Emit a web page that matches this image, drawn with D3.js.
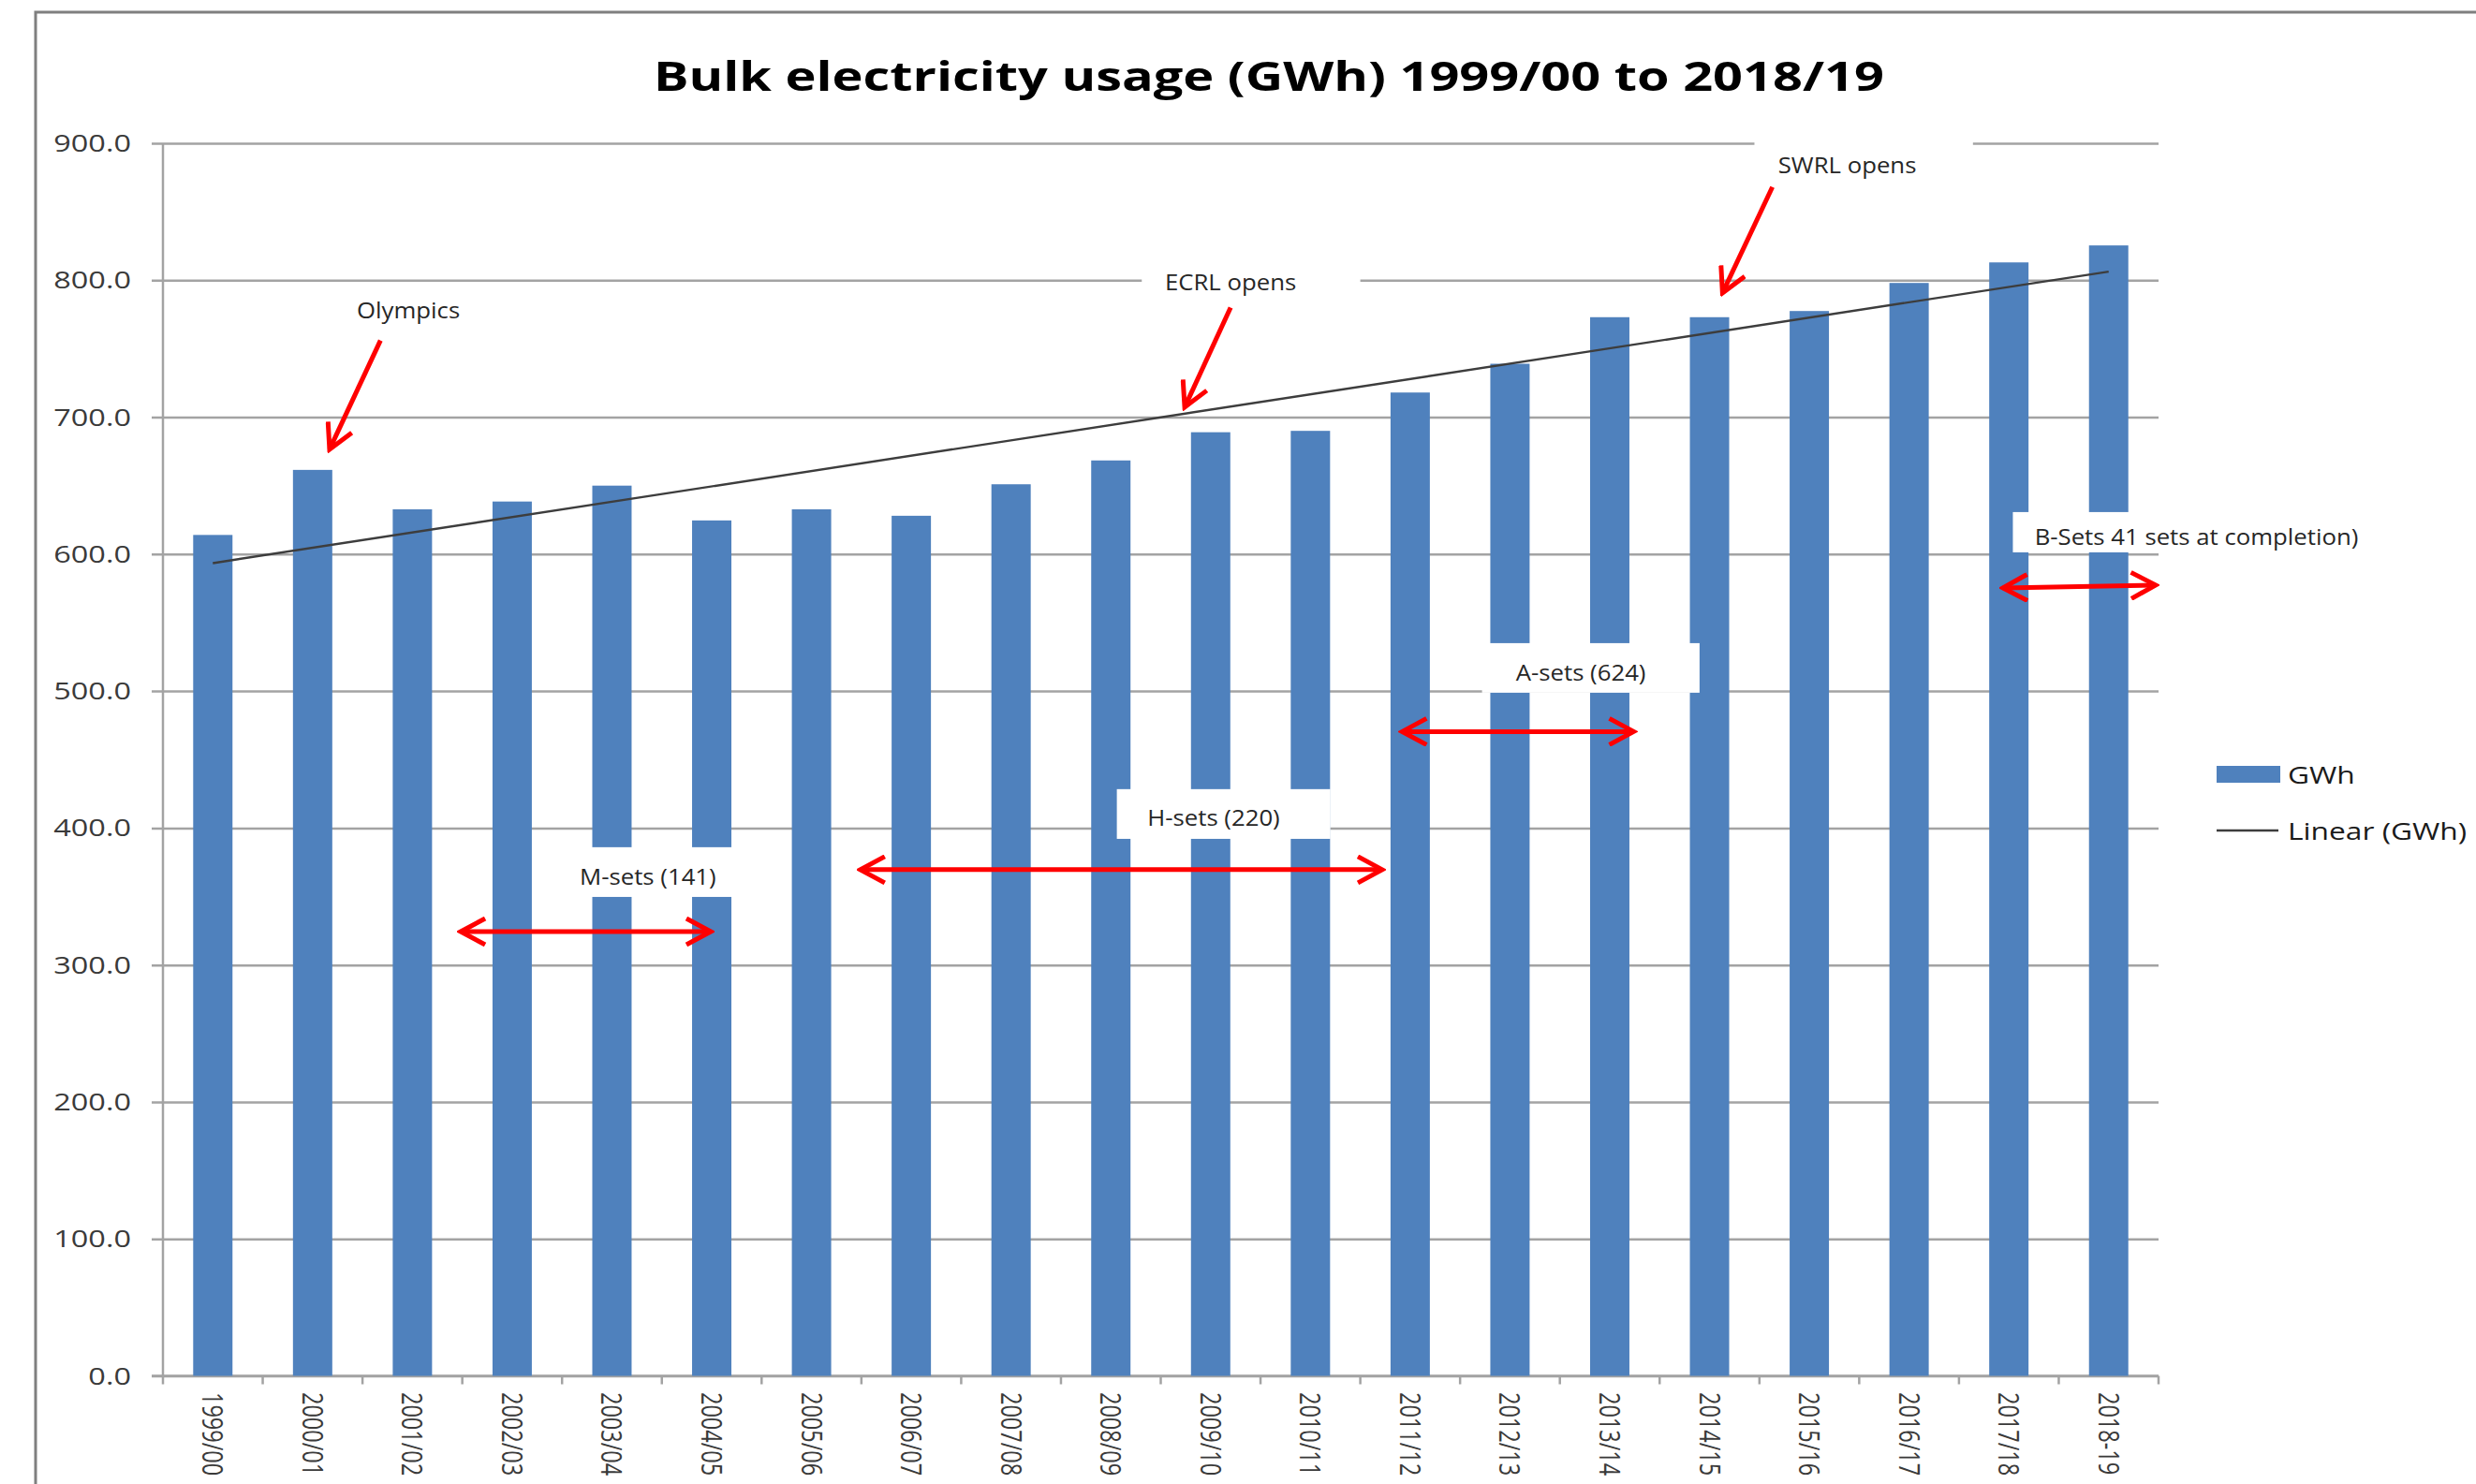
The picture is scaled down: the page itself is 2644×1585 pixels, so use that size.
<!DOCTYPE html>
<html>
<head>
<meta charset="utf-8">
<script src="https://cdn.jsdelivr.net/npm/d3@7"></script>
<style>
  html, body { margin: 0; padding: 0; background: #ffffff; }
  svg { display: block; }
</style>
</head>
<body>
<svg id="chart" width="2644" height="1585"></svg>
<script>
// ---- Data -------------------------------------------------------------
const years = ["1999/00", "2000/01", "2001/02", "2002/03", "2003/04", "2004/05",
  "2005/06", "2006/07", "2007/08", "2008/09", "2009/10", "2010/11", "2011/12",
  "2012/13", "2013/14", "2014/15", "2015/16", "2016/17", "2017/18", "2018-19"];
const gwh = [614, 661.5, 632.7, 638.4, 650, 624.6, 632.7, 628, 651, 668.4,
  689, 690, 718, 739, 773, 773, 777.5, 798, 813, 825.4];
const yTicks = [0, 100, 200, 300, 400, 500, 600, 700, 800, 900];
const titleText = "Bulk electricity usage (GWh) 1999/00 to 2018/19";
const legendLabels = ["GWh", "Linear (GWh)"];

// Event call-outs, placed in [category position, GWh] units
const eventNames = ["Olympics", "ECRL opens", "SWRL opens"];
const eventLabelAt = [[2.46, 772], [10.70, 793], [16.88, 878]];
const eventArrowFrom = [[2.18, 756], [10.70, 780], [16.13, 868]];
const eventArrowTo = [[1.67, 676.5], [10.24, 707.3], [15.63, 790.7]];
const eventBoxes = [null, [9.81, 12.0, 813, 776], [15.95, 18.14, 909, 868]];

// Fleet roll-out periods: label, backing box and double-headed span
const fleetNames = ["M-sets (141)", "H-sets (220)", "A-sets (624)", "B-Sets 41 sets at completion)"];
const fleetLabelAt = [[4.86, 358.6], [10.53, 401.7], [14.21, 507.3], [20.38, 606.6]];
const fleetBoxes = [[3.90, 5.88, 386, 349.7], [9.56, 11.70, 428.4, 392.1],
  [13.22, 15.40, 535, 498.8], [18.54, 22.3, 630.7, 601.3]];
const fleetSpans = [[2.985, 5.49, 324.4, 324.4], [6.99, 12.22, 369.6, 369.6],
  [12.42, 14.74, 470.4, 470.4], [18.44, 19.97, 575.3, 577.4]];

// ---- Layout & styles --------------------------------------------------
const plot = { left: 174, right: 2305, top: 153, bottom: 1469.5 };
const BAR = "#4F81BD", GRID = "#a3a3a3", RED = "#ff0000";
const FONT = "'Open Sans', 'DejaVu Sans', sans-serif";
const TICK_SX = 1.3, TITLE_SX = 1.30, NOTE_SX = 1.12, LEGEND_SX = 1.22;

const svg = d3.select("#chart");

const x = d3.scaleBand().domain(years).range([plot.left, plot.right])
  .paddingInner(0.606).paddingOuter(0.303);
const pos = d3.scaleLinear().domain([0, years.length]).range([plot.left, plot.right]);
const y = d3.scaleLinear().domain([0, 900]).range([plot.bottom, plot.top]);

// outer frame
svg.append("rect")
  .attr("x", 38).attr("y", 13).attr("width", 2700).attr("height", 1700)
  .attr("fill", "none").attr("stroke", "#7f7f7f").attr("stroke-width", 3);

// title
svg.append("text")
  .attr("transform", `translate(${1355},${97}) scale(${TITLE_SX},1)`)
  .attr("text-anchor", "middle")
  .attr("font-family", FONT).attr("font-weight", 700).attr("font-size", 43)
  .attr("fill", "#000").text(titleText);

// horizontal gridlines (with short outside ticks)
svg.append("g")
  .attr("transform", `translate(${plot.right},0)`)
  .call(g => {
    g.call(d3.axisLeft(y).tickValues(yTicks).tickSize(plot.right - plot.left + 12).tickFormat(""));
    g.select(".domain").remove();
    g.selectAll("line").attr("stroke", GRID).attr("stroke-width", 2.5);
  });

// y tick labels
svg.append("g").selectAll("text").data(yTicks).join("text")
  .attr("transform", d => `translate(${140},${y(d)}) scale(${TICK_SX},1)`)
  .attr("text-anchor", "end").attr("dy", "0.36em")
  .attr("font-family", FONT).attr("font-size", 25).attr("fill", "#3a3a3a")
  .text(d => d.toFixed(1));

// y axis line
svg.append("line")
  .attr("x1", plot.left).attr("x2", plot.left)
  .attr("y1", plot.top).attr("y2", plot.bottom)
  .attr("stroke", GRID).attr("stroke-width", 2.5);

// x axis line with boundary ticks
const bounds = d3.range(years.length + 1).map(i => pos(i));
svg.append("line")
  .attr("x1", plot.left - 12).attr("x2", plot.right)
  .attr("y1", plot.bottom).attr("y2", plot.bottom)
  .attr("stroke", GRID).attr("stroke-width", 2.5);
svg.append("g").selectAll("line").data(bounds).join("line")
  .attr("x1", d => d).attr("x2", d => d)
  .attr("y1", plot.bottom).attr("y2", plot.bottom + 9)
  .attr("stroke", GRID).attr("stroke-width", 2.5);

// x tick labels, reading downwards
svg.append("g").selectAll("text").data(years).join("text")
  .attr("transform", d => `translate(${x(d) + x.bandwidth() / 2},${1487}) scale(${TICK_SX},1) rotate(90)`)
  .attr("dy", "0.36em")
  .attr("font-family", FONT).attr("font-size", 23.5).attr("fill", "#3a3a3a")
  .text(d => d);

// bars
svg.append("g").selectAll("rect").data(gwh).join("rect")
  .attr("x", (d, i) => x(years[i]))
  .attr("width", x.bandwidth())
  .attr("y", d => y(d))
  .attr("height", d => y(0) - y(d))
  .attr("fill", BAR);

// least-squares linear trend of the series
const idx = d3.range(gwh.length);
const mx = d3.mean(idx), my = d3.mean(gwh);
const slope = d3.sum(idx, i => (i - mx) * (gwh[i] - my)) / d3.sum(idx, i => (i - mx) ** 2);
const icpt = my - slope * mx;
const trend = [0, gwh.length - 1].map(i => [x(years[i]) + x.bandwidth() / 2, y(icpt + slope * i)]);
svg.append("path")
  .attr("d", d3.line()(trend))
  .attr("fill", "none").attr("stroke", "#3d3d3d").attr("stroke-width", 2.4);

// arrow heads
const defs = svg.append("defs");
defs.append("marker")
  .attr("id", "head").attr("markerUnits", "userSpaceOnUse")
  .attr("viewBox", "-30 -16 34 32").attr("refX", 0).attr("refY", 0)
  .attr("markerWidth", 34).attr("markerHeight", 32)
  .attr("orient", "auto-start-reverse")
  .append("path")
  .attr("d", "M-26,-14 L0,0 L-26,14")
  .attr("fill", "none").attr("stroke", RED).attr("stroke-width", 5)
  .attr("stroke-linejoin", "miter").attr("stroke-linecap", "butt");

// backing boxes behind annotation text
const boxes = eventBoxes.filter(b => b).concat(fleetBoxes);
svg.append("g").selectAll("rect").data(boxes).join("rect")
  .attr("x", b => pos(b[0])).attr("width", b => pos(b[1]) - pos(b[0]))
  .attr("y", b => y(b[2])).attr("height", b => y(b[3]) - y(b[2]))
  .attr("fill", "#ffffff");

// annotation labels
const notes = eventNames.map((t, i) => ({ t, at: eventLabelAt[i] }))
  .concat(fleetNames.map((t, i) => ({ t, at: fleetLabelAt[i] })));
svg.append("g").selectAll("text").data(notes).join("text")
  .attr("transform", d => `translate(${pos(d.at[0])},${y(d.at[1])}) scale(${NOTE_SX},1)`)
  .attr("text-anchor", "middle")
  .attr("font-family", FONT).attr("font-size", 23).attr("fill", "#262626")
  .text(d => d.t);

// event arrows
svg.append("g").selectAll("line").data(eventNames).join("line")
  .attr("x1", (d, i) => pos(eventArrowFrom[i][0])).attr("y1", (d, i) => y(eventArrowFrom[i][1]))
  .attr("x2", (d, i) => pos(eventArrowTo[i][0])).attr("y2", (d, i) => y(eventArrowTo[i][1]))
  .attr("stroke", RED).attr("stroke-width", 5)
  .attr("marker-end", "url(#head)");

// fleet period spans
svg.append("g").selectAll("line").data(fleetSpans).join("line")
  .attr("x1", s => pos(s[0])).attr("y1", s => y(s[2]))
  .attr("x2", s => pos(s[1])).attr("y2", s => y(s[3]))
  .attr("stroke", RED).attr("stroke-width", 5)
  .attr("marker-start", "url(#head)").attr("marker-end", "url(#head)");

// legend
const lg = svg.append("g");
lg.append("rect").attr("x", 2367).attr("y", 818).attr("width", 68).attr("height", 18).attr("fill", BAR);
lg.append("line").attr("x1", 2367).attr("x2", 2433).attr("y1", 887).attr("y2", 887)
  .attr("stroke", "#3d3d3d").attr("stroke-width", 2.4);
lg.selectAll("text").data(legendLabels).join("text")
  .attr("transform", (d, i) => `translate(${2443},${[837, 897][i]}) scale(${LEGEND_SX},1)`)
  .attr("font-family", FONT).attr("font-size", 26).attr("fill", "#1a1a1a")
  .text(d => d);
</script>
</body>
</html>
